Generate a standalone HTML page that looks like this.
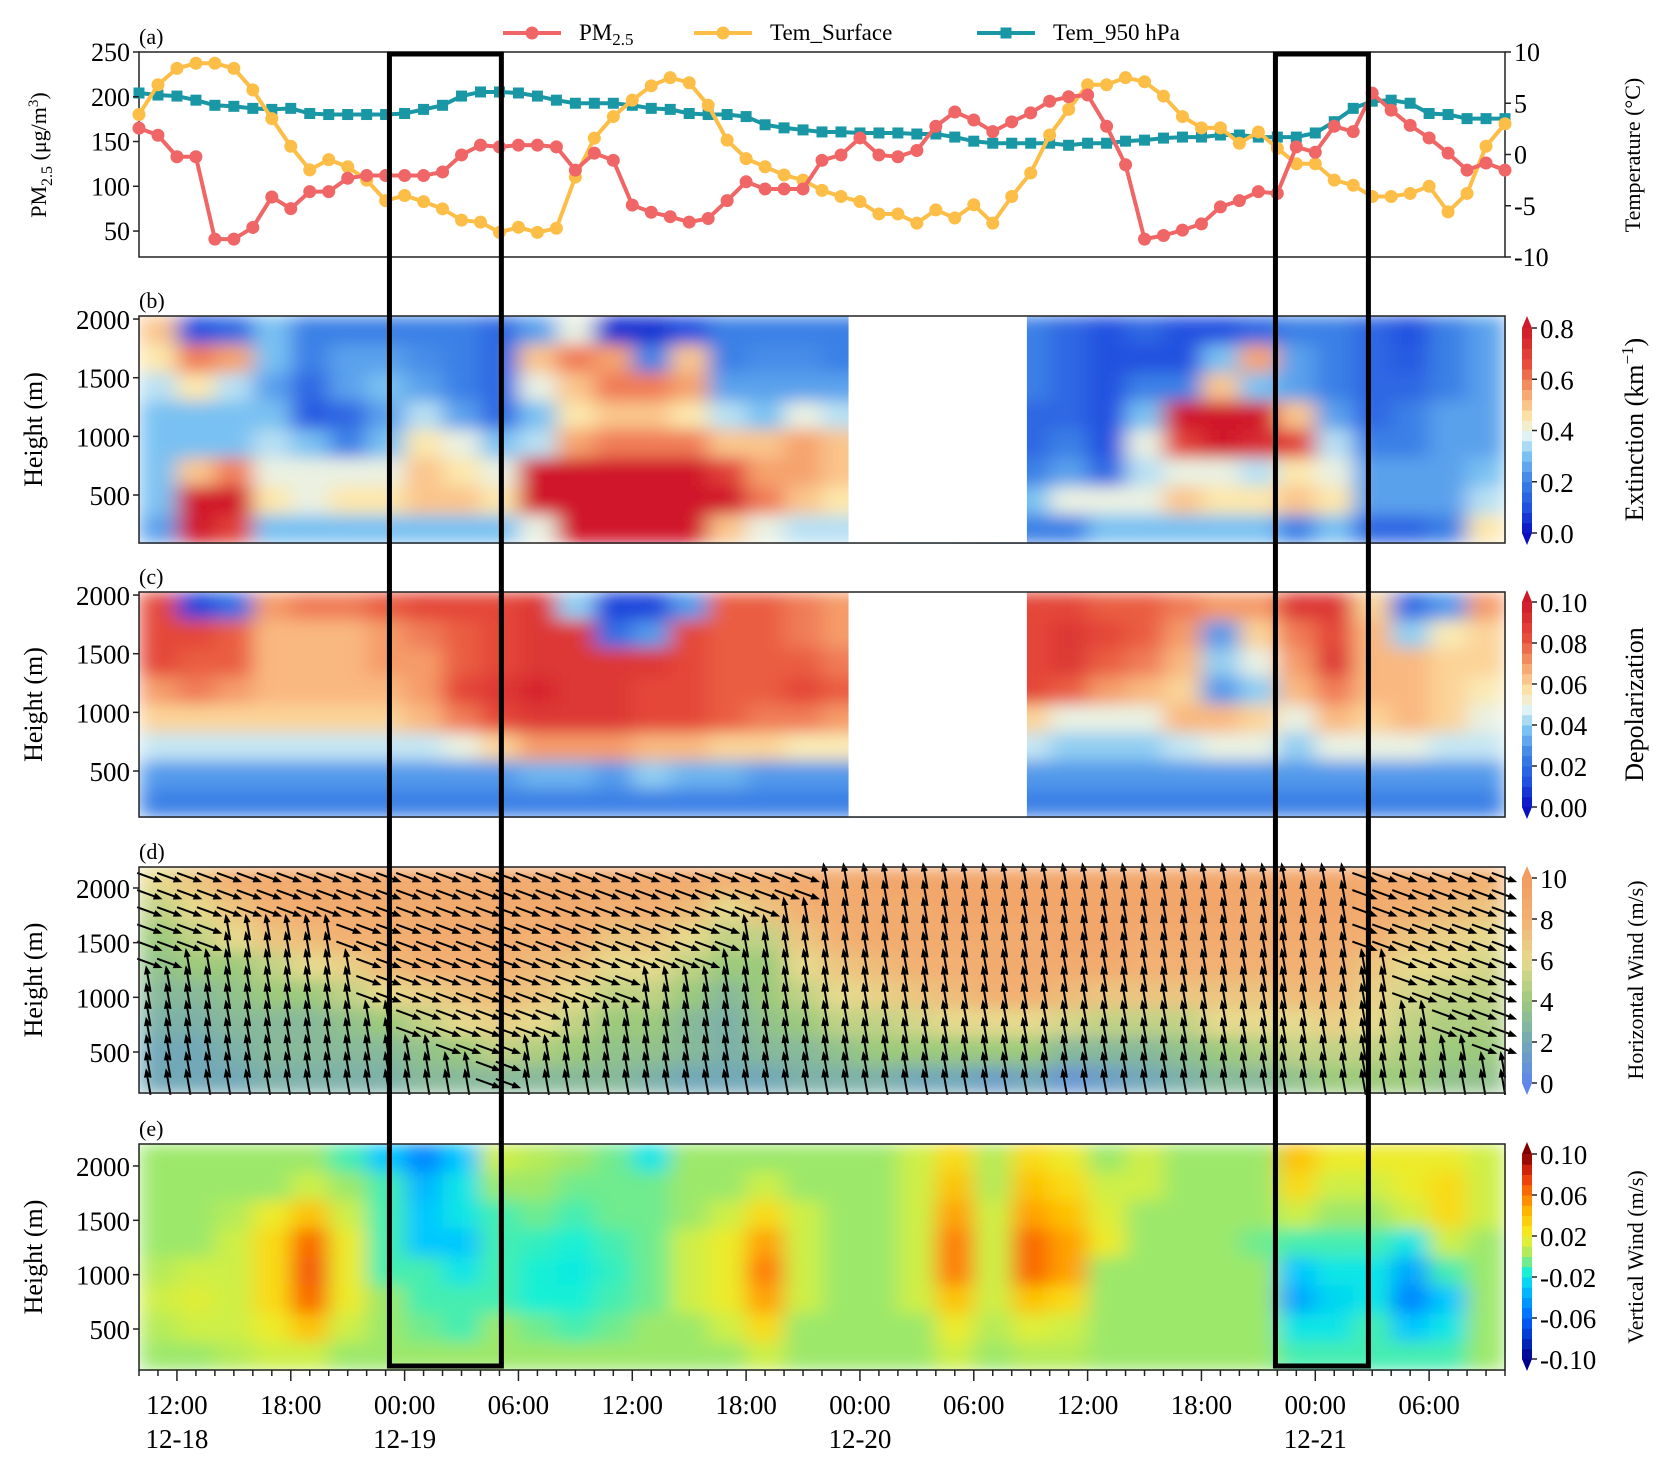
<!DOCTYPE html>
<html><head><meta charset="utf-8">
<style>
html,body{margin:0;padding:0;background:#fff;}
svg{display:block;}
svg text{font-family:"Liberation Serif","DejaVu Serif",serif;}
</style></head>
<body>
<svg id="fig" width="1668" height="1469" viewBox="0 0 1668 1469" xmlns="http://www.w3.org/2000/svg">
<defs>
<filter id="blurE" x="0" y="0" width="1" height="1" filterUnits="objectBoundingBox"><feGaussianBlur stdDeviation="11 8" edgeMode="duplicate"/></filter>
</defs>
<g id="root"></g>
</svg>
<script>
// ---------- DATA ----------
const hoursTotal = 72; // 12-18 10:00 to 12-21 10:00
const tickHours = [2,8,14,20,26,32,38,44,50,56,62,68];
const tickLabels = ["12:00","18:00","00:00","06:00","12:00","18:00","00:00","06:00","12:00","18:00","00:00","06:00"];
const dateHours = [2,14,38,62];
const dateLabels = ["12-18","12-19","12-20","12-21"];
const pm25 = [165,157,133,133,41,41,54,88,75,94,94,109,112,112,112,112,116,135,146,144,146,146,144,118,137,129,79,71,66,60,64,84,105,97,97,97,129,135,154,135,133,140,167,183,174,161,172,182,195,200,202,167,124,41,45,51,58,77,84,94,92,144,138,167,161,204,185,168,154,137,118,126,118];
const temSurface = [3.9,6.8,8.4,8.9,8.9,8.4,6.3,3.5,0.8,-1.5,-0.5,-1.2,-2.5,-4.5,-4.0,-4.6,-5.3,-6.4,-6.6,-7.6,-7.1,-7.6,-7.2,-2.2,1.6,3.7,5.3,6.7,7.5,7.0,4.8,1.4,-0.4,-1.2,-2.0,-2.5,-3.5,-4.1,-4.6,-5.8,-5.8,-6.7,-5.4,-6.2,-4.9,-6.7,-4.1,-1.8,1.9,4.4,6.8,6.8,7.5,7.1,5.7,3.7,2.6,2.6,1.1,2.2,0.6,-0.9,-0.9,-2.5,-3.0,-4.1,-4.1,-3.8,-3.1,-5.6,-3.8,0.8,3.0];
const tem950 = [6.0,5.8,5.7,5.3,4.8,4.7,4.5,4.4,4.5,4.0,3.9,3.9,3.9,3.9,4.0,4.4,4.8,5.7,6.1,6.1,6.0,5.7,5.3,5.0,5.0,5.0,4.8,4.5,4.4,4.0,3.9,3.9,3.7,2.9,2.6,2.4,2.2,2.2,2.1,2.1,2.1,2.0,2.0,1.7,1.3,1.1,1.1,1.1,1.1,0.9,1.1,1.1,1.3,1.4,1.6,1.7,1.7,1.9,1.9,1.7,1.7,1.7,2.1,3.2,4.5,5.2,5.3,5.0,4.0,3.9,3.5,3.5,3.5];
const boxes = [[13.2,19.1],[59.9,64.8]];
const lidarGap = [37.4,46.8];
// heatmap grids: 36 columns (2 h each), 8 rows top->bottom
const extinction = [
[0.5,0.45,0.35,0.3,0.3,0.3,0.3,0.25],[0.1,0.6,0.45,0.3,0.3,0.5,0.8,0.8],[0.15,0.55,0.35,0.3,0.3,0.6,0.8,0.7],[0.3,0.3,0.25,0.3,0.35,0.4,0.45,0.3],
[0.2,0.2,0.15,0.12,0.3,0.4,0.4,0.3],[0.2,0.25,0.25,0.15,0.2,0.4,0.45,0.3],[0.2,0.25,0.3,0.25,0.3,0.4,0.45,0.3],[0.2,0.22,0.25,0.35,0.45,0.5,0.5,0.3],
[0.2,0.2,0.2,0.25,0.4,0.45,0.5,0.3],[0.15,0.15,0.15,0.15,0.3,0.4,0.45,0.3],[0.25,0.5,0.4,0.3,0.35,0.8,0.8,0.4],[0.4,0.6,0.5,0.45,0.55,0.8,0.8,0.8],
[0.05,0.55,0.6,0.5,0.6,0.8,0.8,0.8],[0.05,0.2,0.6,0.5,0.6,0.8,0.8,0.8],[0.1,0.5,0.55,0.45,0.6,0.8,0.8,0.8],[0.2,0.2,0.25,0.35,0.5,0.7,0.8,0.5],
[0.2,0.22,0.25,0.3,0.5,0.55,0.6,0.4],[0.2,0.22,0.25,0.4,0.55,0.55,0.5,0.35],[0.2,0.2,0.25,0.35,0.5,0.5,0.45,0.35],[0.2,0.2,0.25,0.35,0.5,0.5,0.45,0.35],
[0.2,0.2,0.2,0.2,0.2,0.3,0.4,0.3],[0.2,0.2,0.2,0.2,0.2,0.3,0.4,0.3],[0.2,0.2,0.2,0.15,0.15,0.2,0.3,0.2],[0.2,0.2,0.2,0.15,0.15,0.2,0.3,0.2],
[0.15,0.15,0.15,0.15,0.2,0.25,0.4,0.2],[0.1,0.1,0.1,0.1,0.1,0.15,0.4,0.3],[0.15,0.1,0.2,0.3,0.4,0.35,0.4,0.3],[0.1,0.1,0.2,0.8,0.7,0.4,0.5,0.3],
[0.1,0.3,0.5,0.8,0.8,0.4,0.45,0.3],[0.15,0.55,0.3,0.8,0.75,0.35,0.45,0.3],[0.2,0.25,0.25,0.5,0.7,0.45,0.5,0.2],[0.2,0.2,0.2,0.25,0.35,0.4,0.45,0.3],
[0.15,0.15,0.15,0.15,0.2,0.25,0.25,0.15],[0.1,0.12,0.15,0.2,0.2,0.25,0.25,0.15],[0.2,0.2,0.2,0.25,0.25,0.25,0.25,0.2],[0.25,0.25,0.25,0.25,0.25,0.3,0.35,0.45]];
const depol = [
[0.085,0.085,0.085,0.07,0.06,0.045,0.03,0.025],[0.01,0.085,0.08,0.075,0.06,0.045,0.03,0.025],[0.02,0.08,0.08,0.07,0.06,0.045,0.03,0.025],[0.07,0.065,0.065,0.065,0.06,0.045,0.03,0.025],
[0.075,0.065,0.065,0.065,0.06,0.045,0.03,0.025],[0.075,0.065,0.065,0.065,0.06,0.045,0.03,0.025],[0.08,0.07,0.07,0.065,0.06,0.045,0.03,0.025],[0.085,0.075,0.07,0.07,0.065,0.045,0.03,0.025],
[0.085,0.08,0.08,0.085,0.075,0.05,0.03,0.025],[0.085,0.085,0.085,0.09,0.085,0.06,0.03,0.025],[0.09,0.09,0.09,0.095,0.09,0.07,0.035,0.025],[0.04,0.09,0.09,0.09,0.09,0.07,0.035,0.025],
[0.01,0.02,0.09,0.09,0.09,0.07,0.03,0.025],[0.01,0.03,0.09,0.085,0.085,0.065,0.04,0.025],[0.03,0.085,0.085,0.085,0.085,0.065,0.035,0.025],[0.08,0.08,0.08,0.08,0.08,0.06,0.035,0.025],
[0.08,0.08,0.08,0.08,0.075,0.06,0.03,0.025],[0.075,0.075,0.08,0.085,0.075,0.055,0.03,0.025],[0.07,0.07,0.075,0.08,0.07,0.055,0.03,0.025],[0.07,0.07,0.075,0.08,0.07,0.055,0.03,0.025],
[0.08,0.08,0.08,0.08,0.065,0.05,0.03,0.025],[0.08,0.08,0.08,0.08,0.065,0.05,0.03,0.025],[0.085,0.085,0.085,0.085,0.06,0.045,0.03,0.025],[0.085,0.085,0.085,0.085,0.06,0.045,0.03,0.025],
[0.085,0.09,0.09,0.08,0.05,0.04,0.03,0.025],[0.08,0.085,0.08,0.07,0.05,0.04,0.03,0.025],[0.08,0.08,0.075,0.065,0.05,0.04,0.03,0.025],[0.075,0.07,0.065,0.06,0.065,0.045,0.03,0.025],
[0.07,0.03,0.04,0.03,0.065,0.05,0.03,0.025],[0.07,0.06,0.05,0.04,0.06,0.05,0.03,0.025],[0.09,0.075,0.07,0.065,0.05,0.04,0.03,0.025],[0.09,0.085,0.09,0.075,0.065,0.05,0.03,0.025],
[0.06,0.065,0.065,0.065,0.06,0.05,0.03,0.025],[0.02,0.04,0.065,0.065,0.065,0.05,0.03,0.025],[0.03,0.055,0.06,0.06,0.06,0.045,0.03,0.025],[0.07,0.06,0.06,0.055,0.05,0.045,0.03,0.025]];
const hWind = [
[6,5,4,3.5,3,2.5,2,2],[7,6,5,4,3,2.5,2,2],[8,7,6,4,3.5,3,2.5,2],[8.5,8,7,5,4,3,3,2.5],
[8.5,8.5,7.5,6,4,3,3,2.5],[8.5,8.5,8,6.5,5,3.5,3,2.5],[8.5,8.5,8,7.5,6,4,3,2.5],[8.5,8.5,8.5,8,6.5,5,3.5,3],
[8.5,8.5,8.5,8,7,6,4,3],[8.5,8.5,8.5,8,7.5,6.5,5,3],[8.5,8.5,8,7.5,7,6,4.5,3],[8.5,8.5,8,7,6,5,4,3],
[8.5,8,7,6,5,4,3.5,3],[8.5,8,7,6,5,4,3.5,2.5],[8.5,7.5,6,5,4,3,3,2],[8,6,5,4,3,2.5,2.5,2],
[8,7,5,4,4,3.5,3,2],[8.5,8,7,6,5,4,3,2.5],[8.5,8.5,8,7,6,5,3.5,2.5],[9,8.5,8.5,7.5,6.5,5,4,2.5],
[9,8.5,8.5,8,7,5.5,4,2],[9,9,8.5,8,7.5,6,4,2],[9,9,8.5,8.5,8,6,4,1.5],[9,9,8.5,8.5,8,6,4,2],
[9,9,9,8.5,7.5,5.5,3,1],[9,9,9,8.5,7,5,3,1.5],[9,9,8.5,8,7,5,3,2],[9,9,8.5,8,7,5,3.5,2.5],
[9,9,8.5,8,7,6,4,3],[9,8.5,8.5,8,7,6,4.5,3],[9,9,8.5,8,7.5,6,5,3.5],[9,9,8.5,8,7.5,6.5,5,4],
[8.5,8.5,8,7,6.5,6,5,4],[8.5,8,7,6,5.5,5,4.5,4],[8,7.5,6.5,6,5,4.5,4,3.5],[8,7,6,5.5,5,4.5,4,3.5]];
const windShiftRow = [4,3,2,2,2,3,5,6,7,8,6,5,5,4,4,3,2,1,0,0,0,0,0,0,0,0,0,0,0,0,0,0,3,5,6,7];
const upperWindAngle = -20;   // deg, above shift row
const lowerWindAngle = 100;   // deg, below shift row
const vWind = [
[0,0,0,0,0.005,0.01,0.005,0],[0,0,0,0,0.01,0.015,0.01,0],[0,0,0.005,0.01,0.01,0.01,0.01,0.005],[0,0,0.02,0.03,0.03,0.03,0.02,0.01],
[0,0.01,0.04,0.065,0.07,0.065,0.04,0.01],[-0.01,0,0.01,0.02,0.02,0.02,0.01,0],[-0.03,-0.01,-0.01,-0.01,-0.01,0,0,0],[-0.05,-0.035,-0.03,-0.03,-0.01,-0.01,-0.005,0],
[-0.03,-0.02,-0.02,-0.03,-0.02,-0.01,-0.01,0],[0.01,0,-0.01,-0.01,-0.01,-0.01,0,0],[0.005,0,-0.005,-0.012,-0.015,-0.015,-0.005,0],[0,-0.005,-0.01,-0.015,-0.018,-0.015,-0.01,0],
[-0.005,-0.005,-0.005,-0.01,-0.012,-0.01,-0.005,0],[-0.02,-0.005,-0.005,-0.005,-0.005,-0.005,0,0],[0,0,0,0.01,0.01,0.01,0,0],[0,0,0.01,0.02,0.02,0.02,0.01,0],
[0,0.01,0.03,0.05,0.06,0.05,0.03,0.01],[0,0,0.01,0.01,0.01,0.01,0,0],[0,0,0,0,0,0,0,0],[0,0,0,0,0,0,0,0],
[0.01,0.01,0.01,0.01,0.01,0.01,0,0],[0.03,0.04,0.05,0.06,0.06,0.04,0.02,0.01],[0.005,0.005,0.01,0.01,0.01,0.01,0.005,0],[0.03,0.04,0.05,0.065,0.065,0.04,0.015,0.005],
[0.02,0.03,0.04,0.05,0.05,0.03,0.01,0.005],[0,0.01,0.015,0.02,0,0,0,0],[0.01,0.01,0,0,0,0,0,0],[0,0,0,0,0,0,0,0],
[0,0,0,0,0,0,0,0],[0,0,0,-0.005,0,0,0,0],[0.04,0.03,0.01,-0.01,-0.03,-0.04,-0.02,-0.01],[0.02,0.01,0,-0.01,-0.02,-0.025,-0.02,-0.01],
[0.02,0.01,0,-0.01,-0.02,-0.02,-0.01,-0.01],[0.02,0.02,0.01,-0.02,-0.04,-0.05,-0.03,-0.01],[0.02,0.03,0.03,0.01,-0.01,-0.03,-0.02,-0.01],[0.01,0.01,0.01,0,0,0,0,0]];
const heightTicks = [500,1000,1500,2000];
const pmTicks = [50,100,150,200,250];
const tempTicks = [-10,-5,0,5,10];
const extTicks = [0.0,0.2,0.4,0.6,0.8];
const depTicks = [0.00,0.02,0.04,0.06,0.08,0.10];
const hwTicks = [0,2,4,6,8,10];
const vwTicks = [-0.10,-0.06,-0.02,0.02,0.06,0.10];

// ---------- HELPERS ----------
const NS="http://www.w3.org/2000/svg";
const root=document.getElementById('root');
function mk(tag,attrs,parent){const e=document.createElementNS(NS,tag);for(const k in attrs)e.setAttribute(k,attrs[k]);(parent||root).appendChild(e);return e;}
const X0=139,X1=1505;
function xOf(h){return X0+h*(X1-X0)/hoursTotal;}
function lerpColor(stops,t){t=Math.max(0,Math.min(1,t));for(let i=1;i<stops.length;i++){if(t<=stops[i][0]){const a=stops[i-1],b=stops[i];const f=(t-a[0])/(b[0]-a[0]||1);const ca=hex(a[1]),cb=hex(b[1]);return `rgb(${Math.round(ca[0]+(cb[0]-ca[0])*f)},${Math.round(ca[1]+(cb[1]-ca[1])*f)},${Math.round(ca[2]+(cb[2]-ca[2])*f)})`;}}return stops[stops.length-1][1];}
function hex(h){return [parseInt(h.substr(1,2),16),parseInt(h.substr(3,2),16),parseInt(h.substr(5,2),16)];}
const cmapRB=[[0,'#0a10c0'],[0.12,'#1f4fe0'],[0.25,'#3a80e6'],[0.38,'#7cc4f2'],[0.48,'#e4f4f4'],[0.56,'#fde8ac'],[0.68,'#f7a870'],[0.82,'#e8503c'],[1,'#d0182a']];
const cmapHW=[[0,'#5f85ec'],[0.2,'#72a8b8'],[0.4,'#9cca7c'],[0.6,'#e6da8e'],[0.8,'#f2b072'],[1,'#f29c62']];
const cmapJet=[[0,'#00008c'],[0.2,'#0064ff'],[0.35,'#00c8ff'],[0.42,'#10f0dc'],[0.5,'#9ce86a'],[0.56,'#d8f040'],[0.62,'#f6e820'],[0.72,'#ffb800'],[0.8,'#ff7c00'],[0.9,'#e83010'],[1,'#800000']];

const panels={
 b:{top:316,bot:543,hTop:2026,hBot:91,grid:extinction,vmin:0,vmax:0.8,cmap:cmapRB,ticks:extTicks,fmt:v=>v.toFixed(1),cbTop:328,cbBot:533,title:'Extinction (km',sup:'−1',lab:'(b)',gap:true},
 c:{top:592,bot:817,hTop:2026,hBot:108,grid:depol,vmin:0,vmax:0.1,cmap:cmapRB,ticks:depTicks,fmt:v=>v.toFixed(2),cbTop:602,cbBot:807,title:'Depolarization',lab:'(c)',gap:true},
 d:{top:867,bot:1093,hTop:2192,hBot:125,grid:hWind,vmin:0,vmax:10,cmap:cmapHW,ticks:hwTicks,fmt:v=>String(v),cbTop:878,cbBot:1083,title:'Horizontal Wind (m/s)',lab:'(d)'},
 e:{top:1144,bot:1370,hTop:2202,hBot:123,grid:vWind,vmin:-0.1,vmax:0.1,cmap:cmapJet,ticks:vwTicks,fmt:v=>v.toFixed(2),cbTop:1154,cbBot:1359,title:'Vertical Wind (m/s)',lab:'(e)'}
};

// ---------- PANEL A ----------
const yPM=v=>52+(250-v)*205/229;
const yT=t=>52+(10-t)*205/20;
mk('text',{x:139,y:44,'font-size':22,}).textContent='(a)';
mk('rect',{x:X0,y:52,width:X1-X0,height:205,fill:'#fff',stroke:'#222','stroke-width':1.5,});
function series(arr,yf,color,marker,name){
  const g=mk('g',{});
  
  
  mk('polyline',{points:arr.map((v,i)=>xOf(i)+','+yf(v)).join(' '),fill:'none',stroke:color,'stroke-width':4},g);
  arr.forEach((v,i)=>{
    let m;
    if(marker==='c') m=mk('circle',{cx:xOf(i),cy:yf(v),r:6.5,fill:color},g);
    else m=mk('rect',{x:xOf(i)-5.5,y:yf(v)-5.5,width:11,height:11,fill:color},g);
    
    
  });
}
series(tem950,yT,'#1a97a5','s','tem950-series');
series(temSurface,yT,'#fcbe47','c','tem-surface-series');
series(pm25,yPM,'#f06666','c','pm25-series');
pmTicks.forEach(v=>{const y=yPM(v);mk('line',{x1:X0-6,x2:X0,y1:y,y2:y,stroke:'#222','stroke-width':1.5});const t=mk('text',{x:X0-9,y:y+9,'font-size':26,'text-anchor':'end'});t.textContent=v;});
tempTicks.forEach(v=>{const y=yT(v);mk('line',{x1:X1,x2:X1+6,y1:y,y2:y,stroke:'#222','stroke-width':1.5});const t=mk('text',{x:X1+9,y:y+9,'font-size':26});t.textContent=v;});
{const t=mk('text',{transform:'translate(46,155) rotate(-90)','font-size':22,'text-anchor':'middle',});t.innerHTML='PM<tspan font-size="16" dy="6">2.5</tspan><tspan dy="-6"> (μg/m</tspan><tspan font-size="15" dy="-8">3</tspan><tspan dy="8">)</tspan>';}
{const t=mk('text',{transform:'translate(1640,155) rotate(-90)','font-size':22,'text-anchor':'middle',});t.textContent='Temperature (°C)';}
// legend
const legend=[['#f06666','c','PM','2.5',503],['#fcbe47','c','Tem_Surface','',694],['#1a97a5','s','Tem_950 hPa','',977]];
legend.forEach(L=>{const g=mk('g',{});
 mk('line',{x1:L[4],x2:L[4]+58,y1:33,y2:33,stroke:L[0],'stroke-width':4},g);
 if(L[1]==='c')mk('circle',{cx:L[4]+29,cy:33,r:6.5,fill:L[0]},g);else mk('rect',{x:L[4]+23.5,y:27.5,width:11,height:11,fill:L[0]},g);
 const t=mk('text',{x:L[4]+76,y:40,'font-size':23},g);t.innerHTML=L[2]+(L[3]?'<tspan font-size="17" dy="5">'+L[3]+'</tspan>':'');});

// ---------- HEATMAP PANELS ----------
for(const key in panels){
 const P=panels[key];
 const yH=h=>P.top+(P.hTop-h)*(P.bot-P.top)/(P.hTop-P.hBot);
 mk('text',{x:139,y:P.top-8,'font-size':22,}).textContent=P.lab;
 const g=mk('g',{filter:'url(#blurE)'});
 
 
 const nc=P.grid.length,nr=P.grid[0].length,cw=(X1-X0)/nc,rh=(P.bot-P.top)/nr;
 P.grid.forEach((col,ci)=>col.forEach((v,ri)=>{
   const r=mk('rect',{x:X0+ci*cw,y:P.top+ri*rh,width:cw+0.6,height:rh+0.6,fill:lerpColor(P.cmap,(v-P.vmin)/(P.vmax-P.vmin))},g);
   
   
 }));
 if(P.gap){const gx=xOf(lidarGap[0]);const r=mk('rect',{x:gx,y:P.top,width:xOf(lidarGap[1])-gx,height:P.bot-P.top,fill:'#fff'});}
 if(key==='d'){
   const ag=mk('g',{stroke:'#000','stroke-width':2,fill:'#000'});
   
   
   const nRows=13;
   for(let h=0.5;h<hoursTotal;h+=1.05){
     for(let k=0;k<nRows;k++){
       const yy=P.top+10+k*(P.bot-P.top-20)/(nRows-1);
       const ci=Math.min(nc-1,Math.floor(h/2));
       const ri=Math.min(nr-1,Math.floor((yy-P.top)/rh));
       const ang=(ri<windShiftRow[ci]?upperWindAngle:lowerWindAngle)*Math.PI/180;
       const L=24,cx=xOf(h),dx=Math.cos(ang)*L/2,dy=-Math.sin(ang)*L/2;
       mk('line',{x1:cx-dx,y1:yy-dy,x2:cx+dx,y2:yy+dy},ag);
       const hx=cx+dx,hy=yy+dy,ux=dx/(L/2),uy=dy/(L/2);
       mk('polygon',{points:`${hx+ux*3},${hy+uy*3} ${hx-ux*6-uy*3.5},${hy-uy*6+ux*3.5} ${hx-ux*6+uy*3.5},${hy-uy*6-ux*3.5}`,stroke:'none'},ag);
     }
   }
 }
 mk('rect',{x:X0,y:P.top,width:X1-X0,height:P.bot-P.top,fill:'none',stroke:'#222','stroke-width':1.5,});
 heightTicks.forEach(h=>{const y=yH(h);mk('line',{x1:X0-6,x2:X0,y1:y,y2:y,stroke:'#222','stroke-width':1.5});const t=mk('text',{x:X0-9,y:y+10,'font-size':27,'text-anchor':'end'});t.textContent=h;});
 {const t=mk('text',{transform:`translate(42,${(P.top+P.bot)/2}) rotate(-90)`,'font-size':26,'text-anchor':'middle'});t.textContent='Height (m)';}
 // colorbar
 const cb=mk('g',{});
 const cx0=1522,cx1=1532,n=20;
 for(let i=0;i<n;i++){const y0=P.cbBot-(i+1)*(P.cbBot-P.cbTop)/n;mk('rect',{x:cx0,y:y0,width:cx1-cx0,height:(P.cbBot-P.cbTop)/n+0.5,fill:lerpColor(P.cmap,(i+0.5)/n)},cb);}
 mk('polygon',{points:`${cx0},${P.cbTop} ${cx1},${P.cbTop} ${(cx0+cx1)/2},${P.cbTop-12}`,fill:lerpColor(P.cmap,1)},cb);
 mk('polygon',{points:`${cx0},${P.cbBot} ${cx1},${P.cbBot} ${(cx0+cx1)/2},${P.cbBot+12}`,fill:lerpColor(P.cmap,0)},cb);
 P.ticks.forEach(v=>{const y=P.cbBot-(v-P.vmin)/(P.vmax-P.vmin)*(P.cbBot-P.cbTop);mk('line',{x1:cx1,x2:cx1+5,y1:y,y2:y,stroke:'#222','stroke-width':1.5},cb);const t=mk('text',{x:1540,y:y+10,'font-size':27},cb);t.textContent=P.fmt(v);});
 {const t=mk('text',{transform:`translate(1643,${(P.top+P.bot)/2}) rotate(-90)`,'font-size':key==='d'||key==='e'?22:26,'text-anchor':'middle'});
  t.innerHTML=P.title+(P.sup?'<tspan font-size="17" dy="-10">'+P.sup+'</tspan><tspan dy="10">)</tspan>':'');
  }
}

// ---------- X AXIS ----------
for(let h=0;h<=hoursTotal;h++){const x=xOf(h);const major=tickHours.includes(h);mk('line',{x1:x,x2:x,y1:1370,y2:1370+(major?11:6),stroke:'#222','stroke-width':1.5});}
tickHours.forEach((h,i)=>{const t=mk('text',{x:xOf(h),y:1414,'font-size':27,'text-anchor':'middle'});t.textContent=tickLabels[i];});
dateHours.forEach((h,i)=>{const t=mk('text',{x:xOf(h),y:1448,'font-size':27,'text-anchor':'middle'});t.textContent=dateLabels[i];});

// ---------- HIGHLIGHT BOXES ----------
boxes.forEach(b=>{const x0=xOf(b[0]),x1=xOf(b[1]);const r=mk('rect',{x:x0,y:54,width:x1-x0,height:1312,fill:'none',stroke:'#000','stroke-width':5});});
</script>
</body></html>
